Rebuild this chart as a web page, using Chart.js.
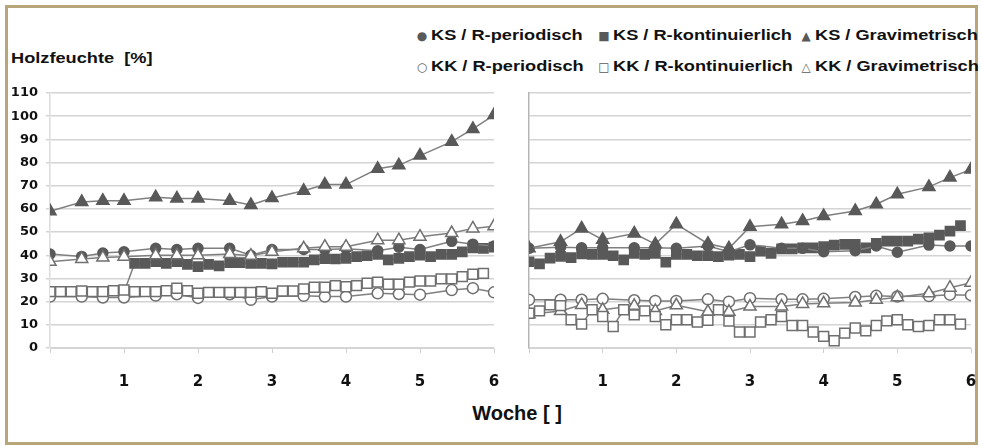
<!DOCTYPE html>
<html>
<head>
<meta charset="utf-8">
<script src="https://cdn.jsdelivr.net/npm/chart.js@4.4.1/dist/chart.umd.min.js"></script>
<style>
    html, body { margin: 0; padding: 0; background: #fff; }
    body { width: 981px; height: 448px; position: relative; overflow: hidden; font-family: "Liberation Sans", Arial, sans-serif; color: #111; }
    #frame { position: absolute; left: 5px; top: 5px; width: 973px; height: 440px; box-sizing: border-box; border: 3px solid #b8a67a; }
    #leftChart { position: absolute; left: 0; top: 0; }
    #rightChart { position: absolute; left: 515px; top: 0; }
    .yTitle { position: absolute; left: 11px; top: 50px; font: bold 14px "Liberation Sans", Arial, sans-serif; white-space: nowrap; transform: scaleX(1.3); transform-origin: left center; }
    .xTitle { position: absolute; left: 417px; width: 200px; top: 402px; text-align: center; font: bold 20px "Liberation Sans", Arial, sans-serif; }
    .leg { position: absolute; font: bold 14px "Liberation Sans", Arial, sans-serif; white-space: nowrap; }
    .leg span { display: inline-block; width: 12px; color: #595959; font-family: "DejaVu Sans", sans-serif; font-size: 12px; margin-right: 3px; text-align: center; }
    .leg b { display: inline-block; transform: scaleX(1.3); transform-origin: left center; }
</style>
</head>
<body>
<div id="frame"></div>
<div class="yTitle">Holzfeuchte&nbsp;&nbsp;[%]</div>
<div class="leg" style="left:416px;top:27px"><span>●</span><b>KS / R-periodisch</b></div>
<div class="leg" style="left:416px;top:58px"><span>○</span><b>KK / R-periodisch</b></div>
<div class="leg" style="left:598px;top:27px"><span>■</span><b>KS / R-kontinuierlich</b></div>
<div class="leg" style="left:598px;top:58px"><span>□</span><b>KK / R-kontinuierlich</b></div>
<div class="leg" style="left:800px;top:27px"><span>▲</span><b>KS / Gravimetrisch</b></div>
<div class="leg" style="left:800px;top:58px"><span>△</span><b>KK / Gravimetrisch</b></div>
<div class="xTitle">Woche [ ]</div>
<canvas id="leftChart" width="510" height="448"></canvas>
<canvas id="rightChart" width="466" height="448"></canvas>
<script>
// Messtage (Tage seit Beginn), Achse in Wochen
const periodDays = [0, 3, 5, 7, 10, 12, 14, 17, 19, 21, 24, 26, 28, 31, 33, 35, 38, 40, 42];
const contDays = [0, 1, 2, 3, 4, 5, 6, 7, 8, 9, 10, 11, 12, 13, 14, 15, 16, 17, 18, 19, 20,
    21, 22, 23, 24, 25, 26, 27, 28, 29, 30, 31, 32, 33, 34, 35, 36, 37, 38, 39, 40, 41];
const leftKsContDays = [7, 8, 9, 10, 11, 12, 13, 14, 15, 16, 17, 18, 19, 20, 21, 22, 23, 24,
    25, 26, 27, 28, 29, 30, 31, 32, 33, 34, 35, 36, 37, 38, 39, 40, 41, 42];
const weekTicks = [0, 1, 2, 3, 4, 5, 6];

// linke Grafik
const leftKsPeriodic = [40.5, 39.5, 41, 41.5, 43, 42.5, 43, 43, 40, 42.5, 42.5, 42.5, 42.8, 42, 43.5, 42.5, 46, 44.8, 44];
const leftKkPeriodic = [22.2, 22.2, 21.8, 21.8, 22.6, 23.2, 21.6, 23.2, 20.8, 22.2, 22.5, 22.2, 22.2, 23.6, 23.3, 23, 25, 25.8, 24];
const leftKsGrav = [59, 63, 63.5, 63.5, 65, 64.5, 64.5, 63.5, 61.7, 64.7, 67.8, 70.5, 70.5, 77.3, 78.8, 83, 89, 94.5, 100.5];
const leftKkGrav = [37.2, 38.4, 39, 39.4, 40, 40, 40, 40.5, 39.8, 41.5, 43, 43.7, 43.7, 46.5, 46.5, 48, 49.6, 51.6, 52.5];
const leftKsCont = [24, 36.5, 36.5, 37.2, 36.5, 37.2, 36.1, 35.1, 36.1, 35.4, 36.8, 36.8, 36.5, 36.5, 36.3, 37, 37, 37,
    38, 38.5, 38.4, 38.7, 39.4, 39.8, 40.4, 38, 38.7, 39.4, 40, 39.4, 40.4, 40.4, 41.5, 43.2, 43, 43.5];
const leftKkCont = [24.3, 24.3, 24.3, 24.6, 24.3, 24.3, 24.7, 25, 24.3, 24.3, 24.3, 24.7, 25.8, 24.7, 23.6, 24, 24, 24,
    24, 24, 24.3, 23.6, 24.6, 24.6, 25.5, 26.2, 26.2, 26.9, 26.4, 26.9, 27.9, 28.4, 27.5, 27.5, 28.4, 28.9, 28.9,
    29.8, 29.8, 30.8, 31.8, 32.2];

// rechte Grafik
const rightKsPeriodic = [43, 43.5, 43.2, 43.2, 43.2, 43.2, 43, 44, 41.5, 44.5, 43, 43, 41.5, 42, 44, 41.3, 44.4, 44, 44];
const rightKkPeriodic = [20.8, 20.8, 20.8, 21.2, 20.6, 20.3, 20.3, 21, 20, 21.5, 21, 21, 21.2, 22, 22.5, 22.2, 22.4, 23, 22.8];
const rightKsGrav = [43, 45.8, 51.6, 46.7, 49.4, 44.8, 53.4, 45, 43, 52.3, 53.4, 54.8, 56.9, 59.1, 62, 66.3, 69.5, 73.5, 77];
const rightKkGrav = [14.6, 16, 18.6, 16.5, 18.2, 16, 18.4, 15.6, 15.6, 17.9, 17.9, 19, 19.3, 19.6, 20.8, 21.9, 23.6, 26, 28.2];
const rightKsCont = [37.2, 36.3, 38.8, 39.5, 39, 40.6, 40.4, 40.4, 39.8, 38, 40.8, 40.4, 40.8, 37, 40.4, 40.4, 39.8,
    39.8, 39.4, 40, 40.4, 39.4, 41.8, 40.8, 42.8, 42.8, 43.2, 43.2, 43.7, 44.4, 44.7, 44.7, 43.2, 45.1, 46.1, 46.1,
    46.1, 47, 47.5, 48.7, 50.4, 52.8];
const rightKkCont = [15, 16, 18.6, 18.3, 12.2, 10.3, 16.5, 13.6, 9.3, 16.5, 14.3, 16, 13.6, 10, 12.2, 12.2, 11.2, 12,
    16.5, 11.6, 6.9, 6.9, 11.2, 12.2, 13.6, 9.7, 9.7, 6.9, 5, 3.1, 6.4, 8.6, 7.4, 9.7, 11.7, 12.2, 10, 9.3, 9.7,
    12.2, 12.2, 10.3];

const dark = '#595959';
const lineCol = '#7f7f7f';

const toXY = function (days, vals) {
    return days.map((d, i) => ({x: d / 7, y: vals[i]}));
}

const series = function (label, days, vals, style, filled, r) {
    return {
        label: label,
        data: toXY(days, vals),
        borderColor: lineCol,
        borderWidth: 1.5,
        pointStyle: style,
        pointRadius: r,
        pointBackgroundColor: filled ? dark : '#ffffff',
        pointBorderColor: filled ? dark : '#6f6f6f',
        pointBorderWidth: 1.5,
        fill: false,
        tension: 0
    };
}

const makePanel = function (id, sets, leftPanel) {
    new Chart(document.getElementById(id), {
        type: 'line',
        data: {datasets: sets},
        options: {
            responsive: false,
            animation: false,
            events: [],
            layout: {padding: {top: 93, right: leftPanel ? 16 : 10, left: 0, bottom: 0}},
            plugins: {legend: {display: false}, tooltip: {enabled: false}},
            scales: {
                x: {
                    type: 'linear', min: 0, max: 6,
                    afterBuildTicks: s => { s.ticks = weekTicks.map(v => ({value: v})); },
                    afterFit: s => { s.height = 100; },
                    grid: {display: true, drawOnChartArea: false, drawTicks: true, tickLength: 5, color: '#cfcfcf'},
                    border: {color: '#d4d4d4', width: 1},
                    ticks: {
                        padding: 3, color: '#111',
                        // große Zeilenhöhe schiebt die Beschriftung nach unten
                        font: {family: 'DejaVu Sans', weight: 'bold', size: 15, lineHeight: 3.47},
                        callback: v => v === 0 ? '' : v
                    }
                },
                y: {
                    min: 0, max: 110,
                    afterFit: s => { s.width = leftPanel ? 50 : 14; },
                    grid: {color: '#d4d4d4', lineWidth: 1.5, tickLength: leftPanel ? 4 : 0},
                    border: {color: leftPanel ? '#dcdcdc' : '#b5b5b5', width: 1.5},
                    ticks: {
                        display: leftPanel, stepSize: 10, padding: 8, color: '#111',
                        font: {family: 'DejaVu Sans', weight: 'bold', size: 13}
                    }
                }
            }
        }
    });
}

makePanel('leftChart', [
    series('KK / R-kontinuierlich', contDays, leftKkCont, 'rect', false, 7),
    series('KS / Gravimetrisch', periodDays, leftKsGrav, 'triangle', true, 7),
    series('KK / Gravimetrisch', periodDays, leftKkGrav, 'triangle', false, 7),
    series('KS / R-periodisch', periodDays, leftKsPeriodic, 'circle', true, 5),
    series('KK / R-periodisch', periodDays, leftKkPeriodic, 'circle', false, 5.5),
    series('KS / R-kontinuierlich', leftKsContDays, leftKsCont, 'rect', true, 6.5)
], true);

makePanel('rightChart', [
    series('KK / R-kontinuierlich', contDays, rightKkCont, 'rect', false, 7),
    series('KS / Gravimetrisch', periodDays, rightKsGrav, 'triangle', true, 7),
    series('KK / Gravimetrisch', periodDays, rightKkGrav, 'triangle', false, 7),
    series('KS / R-periodisch', periodDays, rightKsPeriodic, 'circle', true, 5),
    series('KK / R-periodisch', periodDays, rightKkPeriodic, 'circle', false, 5.5),
    series('KS / R-kontinuierlich', contDays, rightKsCont, 'rect', true, 6.5)
], false);
</script>
</body>
</html>
